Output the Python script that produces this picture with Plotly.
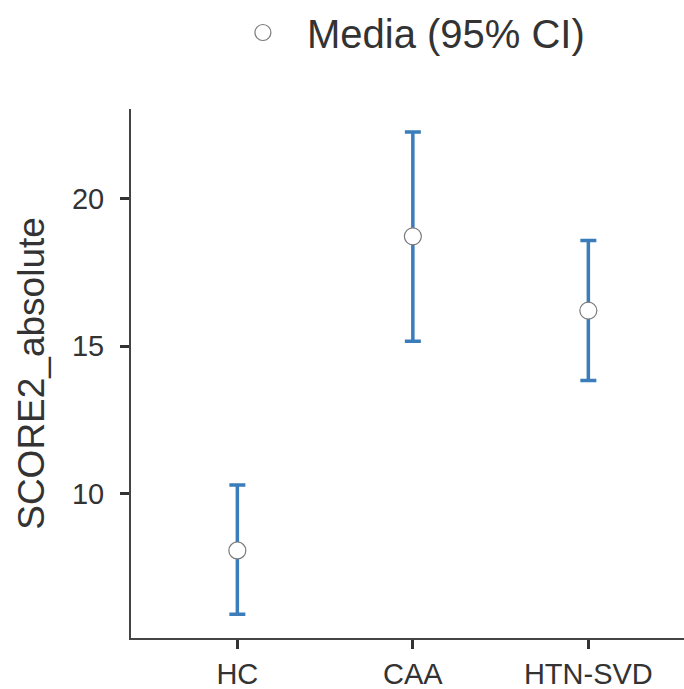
import plotly.graph_objects as go

categories = ["HC", "CAA", "HTN-SVD"]
means = [8.07, 18.73, 16.21]
upper = [10.29, 22.27, 18.59]
lower = [5.91, 15.17, 13.84]
y_ticks = [10, 15, 20]
series_name = "Media (95% CI)"
y_title = "SCORE2_absolute"

err_plus = [u - m for u, m in zip(upper, means)]
err_minus = [m - l for m, l in zip(means, lower)]

font_family = "Liberation Sans, Arial, sans-serif"
text_color = "#333333"
bar_color = "#3b7dba"

fig = go.Figure()
fig.add_trace(go.Scatter(
    x=categories, y=means, mode="markers", name=series_name,
    marker=dict(symbol="circle", size=17, color="white",
                line=dict(color="#7a7a7a", width=1.2)),
    error_y=dict(type="data", symmetric=False, array=err_plus, arrayminus=err_minus,
                 color=bar_color, thickness=3.5, width=8),
    showlegend=True,
))

fig.update_layout(
    width=684, height=689,
    margin=dict(l=131, r=0, t=105, b=51),
    paper_bgcolor="white", plot_bgcolor="white",
    font=dict(family=font_family, color=text_color),
    showlegend=True,
    legend=dict(orientation="h", x=0.159, xanchor="left", y=1.145, yanchor="middle",
                itemwidth=78,
                font=dict(size=40, color=text_color), bgcolor="rgba(0,0,0,0)"),
    xaxis=dict(type="category", range=[-0.606, 2.545], showgrid=False, zeroline=False,
               showline=True, linecolor="#444444", linewidth=2, automargin=False,
               ticks="outside", ticklen=9, tickwidth=2.5, tickcolor="#333333",
               tickfont=dict(size=29, color=text_color), ticklabelstandoff=0),
    yaxis=dict(range=[5.10, 23.05], tickvals=y_ticks, showgrid=False, zeroline=False,
               showline=True, linecolor="#444444", linewidth=2, automargin=False,
               ticks="outside", ticklen=9, tickwidth=2.5, tickcolor="#333333",
               tickfont=dict(size=29, color=text_color), ticklabelstandoff=10,
               title=dict(text=y_title, font=dict(size=37, color=text_color), standoff=16)),
)

fig.write_html("out.html")
